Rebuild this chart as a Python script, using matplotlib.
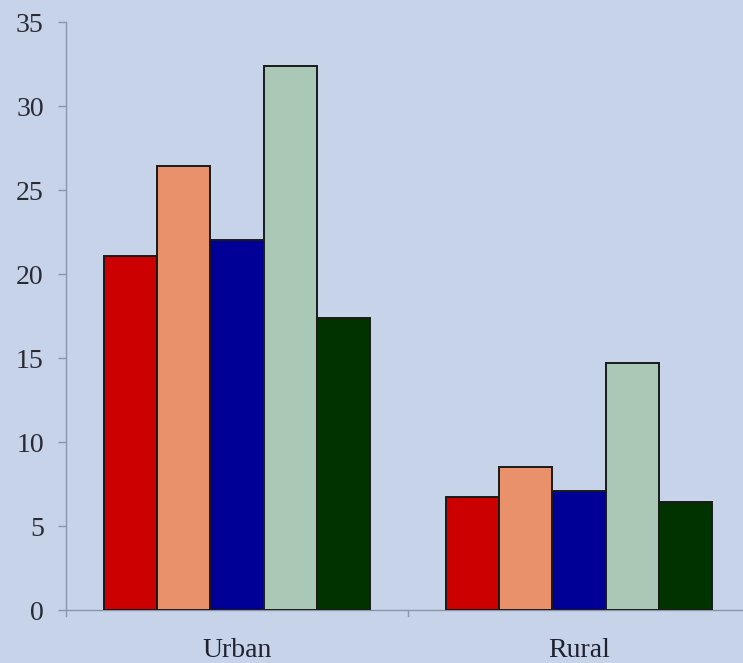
import numpy as np
import matplotlib.pyplot as plt

# values
categories = ["Urban", "Rural"]
series_1 = [21.1, 6.7]
series_2 = [26.4, 8.5]
series_3 = [22.0, 7.1]
series_4 = [32.4, 14.7]
series_5 = [17.4, 6.4]
y_ticks = [0, 5, 10, 15, 20, 25, 30, 35]

BG = "#c6d3e8"
COLORS = ["#cc0000", "#e8916b", "#000096", "#a9c8b6", "#003300"]
AXIS_COLOR = "#8c96aa"

plt.rcParams["font.family"] = ["Liberation Serif", "DejaVu Serif"]

fig = plt.figure(figsize=(7.43, 6.63), dpi=100, facecolor=BG)
ax = fig.add_axes([66 / 743, 53 / 663, 684 / 743, 588 / 663], facecolor=BG)

all_series = [series_1, series_2, series_3, series_4, series_5]
x = np.arange(len(categories))
n = len(all_series)
bar_w = 0.78 / n
for i, (vals, col) in enumerate(zip(all_series, COLORS)):
    offs = (i - (n - 1) / 2) * bar_w
    ax.bar(x + offs, vals, width=bar_w, color=col, edgecolor="#1a1a1a",
           linewidth=1.4, zorder=3)

ax.set_xlim(-0.5, len(categories) - 0.5)
ax.set_ylim(0, 35)
ax.set_yticks(y_ticks)
ax.set_yticklabels([str(t) for t in y_ticks], fontsize=20, color="#2a2a35")

ax.set_xticks(x)
ax.set_xticklabels(categories, fontsize=20, color="#1f2030")
ax.tick_params(axis="x", length=0, pad=20)
ax.tick_params(axis="y", length=6, width=1, color=AXIS_COLOR, pad=10)
# category divider ticks
for b in np.arange(-0.5, len(categories) + 0.5, 1.0):
    ax.plot([b, b], [0, -0.35], color=AXIS_COLOR, lw=1, clip_on=False)

for s in ["top", "right"]:
    ax.spines[s].set_visible(False)
for s in ["left", "bottom"]:
    ax.spines[s].set_color(AXIS_COLOR)
    ax.spines[s].set_linewidth(1)

fig.savefig("out.png", dpi=100, facecolor=BG)
